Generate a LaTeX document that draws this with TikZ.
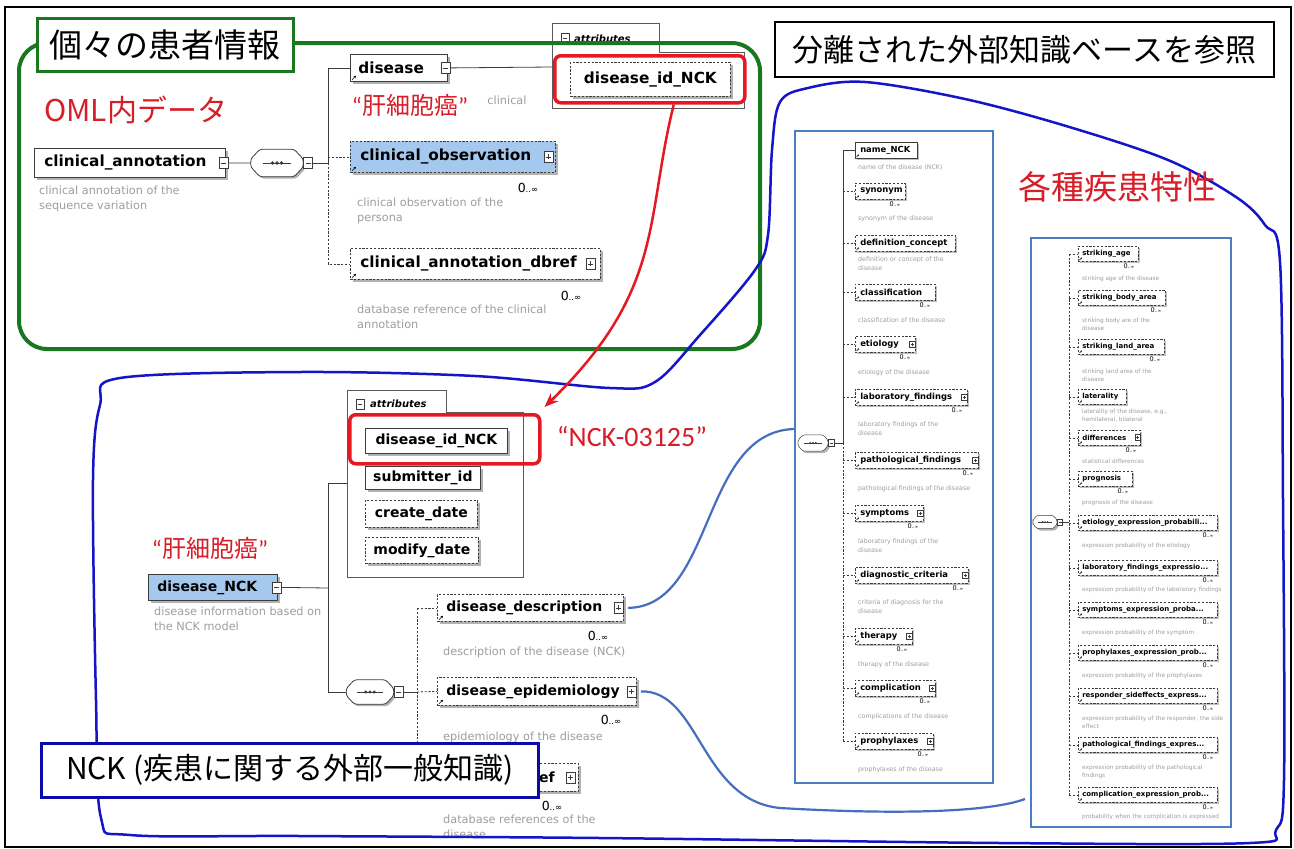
\documentclass[tikz,border=0pt]{standalone}
\usepackage{fontspec}
\newfontfamily\jp{Noto Sans CJK JP}
\newfontfamily\xs{DejaVu Sans}
\newfontfamily\cb{Carlito}
\usetikzlibrary{shapes.misc,shadows,arrows.meta,calc}
\definecolor{gr}{RGB}{25,120,30}
\definecolor{rd}{RGB}{230,25,35}
\definecolor{rdt}{RGB}{215,30,40}
\definecolor{nv}{RGB}{20,20,200}
\definecolor{nkb}{RGB}{10,10,170}
\definecolor{stb}{RGB}{75,125,195}
\definecolor{cnb}{RGB}{70,110,190}
\definecolor{lb}{RGB}{165,200,238}
\definecolor{dg}{RGB}{158,158,158}
\definecolor{bx}{RGB}{60,60,60}
\newcommand\mulL{0{\fontsize{8.5}{8.5}\selectfont..∞}}
\newcommand\mulS{0{\fontsize{4.5}{4.5}\selectfont..∞}}
\newcommand\trd{...}
% compositor outline: #1 node, #2 chamfer, #3 half side, #4 line inset, #5 dot radius, #6 dot spacing, #7 line width
\newcommand\compo[7]{%
  \draw[bx, fill=white, line width=#7, rounded corners=2.5pt, drop shadow={shadow xshift=2pt,shadow yshift=-2pt,fill=black!30,opacity=1}]
    ([xshift=#2]#1.north west) -- ([xshift=-#2]#1.north east) -- ([yshift=#3]#1.east) -- ([yshift=-#3]#1.east)
    -- ([xshift=-#2]#1.south east) -- ([xshift=#2]#1.south west) -- ([yshift=-#3]#1.west) -- ([yshift=#3]#1.west) -- cycle;
  \draw[bx, line width=#7] ([xshift=#4]#1.west) -- ([xshift=-#4]#1.east);
  \fill[bx] (#1.center) circle (#5) ([xshift=-#6]#1.center) circle (#5) ([xshift=#6]#1.center) circle (#5);}
\tikzset{
 shd/.style={drop shadow={shadow xshift=2.5pt,shadow yshift=-2.5pt,fill=black!30,opacity=1}},
 shds/.style={drop shadow={shadow xshift=1.5pt,shadow yshift=-1.5pt,fill=black!25,opacity=1}},
 optd/.style={dash pattern=on 2.2pt off 1.6pt},
 elemL/.style={draw=bx, fill=white, line width=0.8pt, inner sep=0pt, align=left, shd, font=\xs\bfseries\fontsize{15.3}{17}\selectfont},
 elemM/.style={elemL, font=\xs\bfseries\fontsize{14}{15}\selectfont},
 elemS/.style={draw=bx, fill=white, line width=0.5pt, inner sep=0pt, align=left, shds, font=\xs\bfseries\fontsize{8.4}{9}\selectfont},
 solS/.style={elemS},
 dashS/.style={elemS, optd},
 elemT/.style={elemS, optd, font=\xs\bfseries\fontsize{7}{8}\selectfont},
 descL/.style={inner sep=0pt, align=left, text=dg, font=\xs\fontsize{11.3}{15}\selectfont},
 descS/.style={inner sep=0pt, align=left, text=dg, font=\xs\fontsize{6.3}{8.5}\selectfont},
 descT/.style={inner sep=0pt, align=left, text=dg, font=\xs\fontsize{5.8}{7.5}\selectfont},
 multL/.style={inner sep=0pt, font=\xs\fontsize{12.5}{12.5}\selectfont},
 multS/.style={inner sep=0pt, font=\xs\fontsize{6.5}{6.5}\selectfont},
 tree/.style={draw=bx, line width=0.8pt},
 treeS/.style={draw=bx, line width=0.5pt},
 compn/.style={rectangle, inner sep=0pt},
 redbox/.style={draw=rd, line width=3.5pt, rounded corners=6pt, inner sep=0pt},
 attrt/.style={font=\xs\bfseries\itshape\fontsize{10}{10}\selectfont, anchor=west, inner sep=0pt},
 colbox/.style={draw=stb, line width=2pt, anchor=north west, inner sep=0pt},
 conn/.style={draw=cnb, line width=2.2pt},
 minusic/.pic={\draw[draw=bx, fill=white, line width=0.7pt] (-4.5,-5.5) rectangle (4.5,5.5); \draw[bx, line width=0.7pt] (-2.5,0) -- (2.5,0);},
 plusic/.pic={\draw[draw=bx, fill=white, line width=0.7pt] (-4.5,-5.5) rectangle (4.5,5.5); \draw[bx, line width=0.7pt] (-2.5,0) -- (2.5,0) (0,-2.5) -- (0,2.5);},
 refar/.pic={\draw[line width=0.6pt, -{Stealth[length=2.5pt,width=2.5pt]}] (0,0) -- (4,-4);},
 refars/.pic={\draw[line width=0.4pt, -{Stealth[length=1.6pt,width=1.6pt]}] (0,0) -- (2.5,-2.5);}
}
\begin{document}
\begin{tikzpicture}[x=1pt,y=-1pt]
\useasboundingbox (0,0) rectangle (1294,849);
\fill[white] (0,0) rectangle (1294,849);

% ---------- column boxes
\node[colbox, minimum width=198pt, minimum height=652pt] (mcol) at (794,130) {};
\node[colbox, minimum width=200pt, minimum height=589pt] (rcol) at (1030,237) {};

% ---------- top tree
\node[elemL, anchor=north west, text width=191pt, minimum height=29pt] (ca) at (34,148) {\hspace*{10pt}clinical\_annotation};
\pic at ([xshift=-2pt]ca.east) {minusic};
\node[descL, anchor=north west] (cad) at (39,186) {clinical annotation of the\\sequence variation};
\node[compn, minimum width=52pt, minimum height=27pt] (c1) at (277,163) {};
\compo{c1}{9pt}{4pt}{12pt}{1.8}{4.5pt}{0.8pt}
\pic at ([xshift=5pt]c1.east) {minusic};
\draw[tree] ([xshift=3pt]ca.east) -- (c1.west);
\coordinate (j1) at (328,163);
\draw[tree] ([xshift=10pt]c1.east) -- (j1);

\node[elemL, anchor=north west, text width=97pt, minimum height=27pt] (dis) at (350,54) {\hspace*{8pt}disease};
\pic at ([xshift=-2pt]dis.east) {minusic};
\pic at ([xshift=2pt,yshift=2pt]dis.south west) {refar};

\node[elemL, optd, fill=lb, anchor=north west, text width=205pt, minimum height=31pt] (cobs) at (350,141) {\hspace*{10pt}clinical\_observation};
\pic at ([xshift=-7pt]cobs.east) {plusic};
\pic at ([xshift=2pt,yshift=2pt]cobs.south west) {refar};
\node[multL] (cobsm) at (528,188) {\mulL};
\node[descL, anchor=north west] (cobsd) at (357,198) {clinical observation of the\\persona};

\node[elemL, optd, anchor=north west, text width=250pt, minimum height=31pt] (cdb) at (350,248) {\hspace*{10pt}clinical\_annotation\_dbref};
\pic at ([xshift=-10pt]cdb.east) {plusic};
\pic at ([xshift=2pt,yshift=2pt]cdb.south west) {refar};
\node[multL] (cdbm) at (571,296) {\mulL};
\node[descL, anchor=north west] (cdbd) at (357,305) {database reference of the clinical\\annotation};

\draw[tree] (j1 |- dis.west) -- (dis.west);
\draw[tree] (j1 |- dis.west) -- (j1);
\draw[tree, optd] (j1) -- (j1 |- cdb.west) -- (cdb.west);
\draw[tree, optd] (j1 |- cobs.west) -- (cobs.west);

\node[text=rdt, font=\jp\fontsize{24}{24}\selectfont, inner sep=0pt] (hcc1) at (410,105) {{\cb “}肝細胞癌{\cb ”}};
\node[descL] (clin) at (507,100) {clinical};

% attributes top
\draw[draw=black!65, line width=1pt] (552,23) -- (659,23) -- (659,52) -- (744,52) -- (744,108) -- (552,108) -- cycle;
\pic[scale=0.9] at (565,38) {minusic};
\node[attrt] (at1) at (574,39) {attributes};
\coordinate (at1w) at (552,67);
\draw[tree] ([xshift=3pt]dis.east) -- (at1w);
\node[elemL, optd, anchor=north west, text width=160pt, minimum height=34pt, align=center] (did1) at (570,62) {disease\_id\_NCK};
\node[redbox, anchor=north west, minimum width=190pt, minimum height=47pt] (rr1) at (553,54) {};

% ---------- lower tree
\node[text=rdt, font=\jp\fontsize{24}{24}\selectfont, inner sep=0pt] (hcc2) at (210,548) {{\cb “}肝細胞癌{\cb ”}};
\node[elemM, fill=lb, anchor=north west, text width=129pt, minimum height=26pt] (dnck) at (148,574) {\hspace*{9pt}disease\_NCK};
\pic at ([xshift=-1pt]dnck.east) {minusic};
\node[descL, anchor=north west] (dnckd) at (154,607) {disease information based on\\the NCK model};
\coordinate (j2) at (328,588);
\draw[tree] ([xshift=4pt]dnck.east) -- (j2);

\draw[draw=black!65, line width=1pt] (347,390) -- (446,390) -- (446,412) -- (523,412) -- (523,577) -- (347,577) -- cycle;
\pic[scale=0.9] at (360,404) {minusic};
\node[attrt] (at2) at (370,404) {attributes};
\coordinate (at2w) at (347,483);

\node[elemM, anchor=north west, text width=142pt, minimum height=25pt, align=center] (did2) at (365,428) {disease\_id\_NCK};
\node[elemM, anchor=north west, text width=115pt, minimum height=23pt, align=center] (sub) at (365,466) {submitter\_id};
\node[elemM, optd, anchor=north west, text width=112pt, minimum height=27pt, align=center] (cdt) at (365,500) {create\_date};
\node[elemM, optd, anchor=north west, text width=113pt, minimum height=26pt, align=center] (mdt) at (365,537) {modify\_date};
\node[redbox, anchor=north west, minimum width=190pt, minimum height=49pt] (rr2) at (348,413) {};
\node[text=rdt, font=\cb\fontsize{28}{28}\selectfont, inner sep=0pt] (nckid) at (632,436) {“NCK-03125”};

\node[compn, minimum width=47pt, minimum height=24pt] (c2) at (370,692) {};
\compo{c2}{8pt}{3.5pt}{11pt}{1.7}{4.2pt}{0.8pt}
\pic at ([xshift=5pt]c2.east) {minusic};
\draw[tree] (at2w) -- (j2 |- at2w) -- (j2 |- c2.west) -- (c2.west);
\coordinate (j3) at (417,692);
\draw[tree] ([xshift=10pt]c2.east) -- (j3);

\node[elemM, optd, anchor=north west, text width=186pt, minimum height=27pt] (dd) at (437,594) {\hspace*{9pt}disease\_description};
\pic at ([xshift=-5pt]dd.east) {plusic};
\pic at ([xshift=2pt,yshift=2pt]dd.south west) {refar};
\node[multL] (ddm) at (598,636) {\mulL};
\node[descL, anchor=north west] (ddd) at (443,647) {description of the disease (NCK)};
\node[elemM, optd, anchor=north west, text width=199pt, minimum height=28pt] (de) at (437,677) {\hspace*{9pt}disease\_epidemiology};
\pic at ([xshift=-5pt]de.east) {plusic};
\pic at ([xshift=2pt,yshift=2pt]de.south west) {refar};
\node[multL] (dem) at (611,720) {\mulL};
\node[descL, anchor=north west] (ded) at (443,732) {epidemiology of the disease};
\node[elemM, optd, anchor=north west, text width=141pt, minimum height=28pt] (ddb) at (437,763) {};
\node[font=\xs\bfseries\fontsize{14}{15}\selectfont, anchor=west, inner sep=0pt] (ddbt) at (539,777) {ef};
\pic at ([xshift=-8pt]ddb.east) {plusic};
\node[multL] (ddbm) at (552,806) {\mulL};
\node[descL, anchor=north west] (ddbd) at (443,815) {database references of the\\disease};
\draw[tree, optd] (j3 |- dd.west) -- (j3 |- ddb.west);
\draw[tree, optd] (j3 |- dd.west) -- (dd.west);
\draw[tree, optd] (j3) -- (de.west);
\draw[tree, optd] (j3 |- ddb.west) -- (ddb.west);

% ---------- middle column
\coordinate (jm) at (843,443);
\node[compn, minimum width=30pt, minimum height=16pt] (c3) at (813,443) {};
\compo{c3}{5pt}{2.5pt}{6pt}{1.1}{2.8pt}{0.5pt}
\pic[scale=0.6] at ([xshift=3pt]c3.east) {minusic};
\draw[treeS] ([xshift=6pt]c3.east) -- (jm);
\foreach \i/\yt/\w/\st/\ic/\mu/\dy/\tx/\ds in {
 1/142/62/solS/0/0/165/{name\_NCK}/{name of the disease (NCK)},
 2/183/50/dashS/0/1/216/{synonym}/{synonym of the disease},
 3/235/100/dashS/0/0/257/{definition\_concept}/{definition or concept of the\\disease},
 4/284/80/dashS/0/1/318/{classification}/{classification of the disease},
 5/336/60/dashS/1/1/370/{etiology}/{etiology of the disease},
 6/389/112/dashS/1/1/422/{laboratory\_findings}/{laboratory findings of the\\disease},
 7/452/123/dashS/1/1/486/{pathological\_findings}/{pathological findings of the disease},
 8/505/68/dashS/1/1/539/{symptoms}/{laboratory findings of the\\disease},
 9/567/113/dashS/1/1/600/{diagnostic\_criteria}/{criteria of diagnosis for the\\disease},
 10/628/57/dashS/1/1/662/{therapy}/{therapy of the disease},
 11/680/80/dashS/1/1/714/{complication}/{complications of the disease},
 12/733/78/dashS/1/1/767/{prophylaxes}/{prophylaxes of the disease}}
{
 \node[\st, anchor=north west, text width=\w pt, minimum height=16pt] (m\i) at (855,\yt) {\hspace*{5pt}\tx};
 \pic at ([xshift=1.5pt,yshift=1.5pt]m\i.south west) {refars};
 \ifnum\ic=1 \pic[scale=0.6] at ([xshift=-3pt]m\i.east) {plusic}; \fi
 \ifnum\mu=1 \node[multS, anchor=north east] (mm\i) at ([xshift=-5pt,yshift=-2pt]m\i.south east) {\mulS}; \fi
 \node[descS, anchor=north west] (md\i) at (858,\dy) {\ds};
 \ifnum\i=1 \draw[treeS] (jm |- m\i.west) -- (m\i.west); \else \draw[treeS, optd] (jm |- m\i.west) -- (m\i.west); \fi
}
\draw[treeS] (jm |- m1.west) -- (jm);
\draw[treeS, optd] (jm) -- (jm |- m12.west);

% ---------- right column
\coordinate (jr) at (1069,522);
\node[compn, minimum width=24pt, minimum height=13pt] (c4) at (1045,522) {};
\compo{c4}{4pt}{2pt}{5pt}{0.9}{2.4pt}{0.5pt}
\pic[scale=0.55] at ([xshift=3pt]c4.east) {minusic};
\draw[treeS] ([xshift=6pt]c4.east) -- (jr);
\foreach \i/\yt/\w/\ic/\mu/\dy/\tx/\ds in {
 1/246/60/0/1/276/{striking\_age}/{striking age of the disease},
 2/290/87/0/1/318/{striking\_body\_area}/{striking body are of the\\disease},
 3/339/86/0/1/369/{striking\_land\_area}/{striking land area of the\\disease},
 4/389/48/0/0/409/{laterality}/{laterality of the disease, e.g.,\\hemilateral, bilateral},
 5/430/62/1/1/459/{differences}/{statistical differences},
 6/471/54/0/1/500/{prognosis}/{prognosis of the disease},
 7/515/139/0/1/543/{etiology\_expression\_probabili\trd}/{expression probability of the etiology},
 8/560/139/0/1/587/{laboratory\_findings\_expressio\trd}/{expression probability of the laboratory findings},
 9/602/139/0/1/630/{symptoms\_expression\_proba\trd}/{expression probability of the symptom},
 10/645/139/0/1/673/{prophylaxes\_expression\_prob\trd}/{expression probability of the prophylaxes},
 11/688/139/0/1/716/{responder\_sideffects\_express\trd}/{expression probability of the responder, the side\\effect},
 12/737/139/0/1/765/{pathological\_findings\_expres\trd}/{expression probability of the pathological\\findings},
 13/787/139/0/1/814/{complication\_expression\_prob\trd}/{probability when the complication is expressed}}
{
 \node[elemT, anchor=north west, text width=\w pt, minimum height=15pt] (r\i) at (1078,\yt) {\hspace*{4pt}\tx};
 \pic at ([xshift=1.5pt,yshift=1.5pt]r\i.south west) {refars};
 \ifnum\ic=1 \pic[scale=0.55] at ([xshift=-3pt]r\i.east) {plusic}; \fi
 \ifnum\mu=1 \node[multS, anchor=north east] (rm\i) at ([xshift=-4pt,yshift=-2pt]r\i.south east) {\mulS}; \fi
 \node[descT, anchor=north west] (rd\i) at (1082,\dy) {\ds};
 \draw[treeS, optd] (jr |- r\i.west) -- (r\i.west);
}
\draw[treeS, optd] (jr |- r1.west) -- (jr |- r13.west);

% ---------- green frame and its title
\node[draw=gr, line width=4pt, rounded corners=28pt, minimum width=741pt, minimum height=306pt, anchor=north west, inner sep=0pt] (gbox) at (17,41) {};
\node[draw=gr, line width=3pt, fill=white, minimum width=256pt, minimum height=53pt, inner sep=0pt, font=\jp\fontsize{33}{33}\selectfont] (t1) at (165,45) {個々の患者情報};
\node[text=rdt, font=\jp\fontsize{30}{30}\selectfont, inner sep=0pt, anchor=west] (oml) at (44,110) {OML内データ};

% ---------- big blue outline
\draw[nv, line width=2.5pt] plot[smooth cycle, tension=0.55] coordinates {
 (120,378) (300,372) (475,376) (610,388) (655,382) (700,335) (755,270) (768,235)
 (772,150) (780,102) (808,88) (865,82) (965,99) (1066,126) (1168,160) (1236,197)
 (1265,225) (1280,262) (1283,500) (1284,780) (1276,830) (1250,843) (1000,843)
 (600,838) (300,836) (130,835) (101,818) (96,700) (93,480) (100,405)};

\node[draw=nkb, line width=2.5pt, fill=white, minimum width=497pt, minimum height=54pt, anchor=north west, inner sep=0pt, font=\jp\fontsize{30}{30}\selectfont] (nck) at (40,742) {NCK (疾患に関する外部一般知識)};

% ---------- red arrow
\draw[rd, line width=2.5pt, -{Stealth[length=14pt,width=11pt]}] ([xshift=24pt]rr1.south) .. controls (645,220) and (665,290) .. ([xshift=3pt,yshift=6pt]rr2.north east);

% ---------- blue connectors
\draw[conn] ([xshift=4pt]dd.east) .. controls (715,607) and (700,432) .. ([yshift=28pt]mcol.west);
\draw[conn] ([xshift=4pt]de.east) .. controls (700,690) and (700,800) .. (780,808) .. controls (900,815) and (990,812) .. ([xshift=-5pt,yshift=29pt]rcol.south west);

% ---------- right titles
\node[draw=black, line width=1.2pt, fill=white, minimum width=499pt, minimum height=55pt, inner sep=0pt, font=\jp\fontsize{31}{31}\selectfont] (t2) at (1024.5,49.5) {分離された外部知識ベースを参照};
\node[text=rdt, font=\jp\fontsize{33}{33}\selectfont, inner sep=0pt] (kind) at (1117,187) {各種疾患特性};

% ---------- outer frame
\draw[black, line width=1.5pt] (5,7) rectangle (1291,847);
\end{tikzpicture}
\end{document}
